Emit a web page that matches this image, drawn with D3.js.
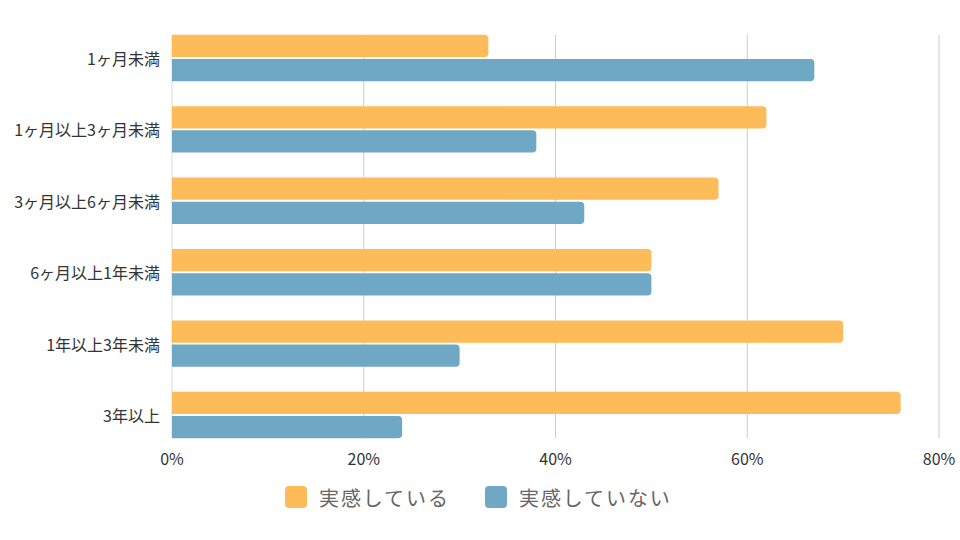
<!DOCTYPE html>
<html>
<head>
<meta charset="utf-8">
<script src="https://cdn.jsdelivr.net/npm/d3@7"></script>
<style>
  body { margin: 0; background: #fff; }
  text { font-family: "Noto Sans CJK JP", "Noto Sans", sans-serif; }
</style>
</head>
<body>
<div id="chart"></div>
<script>
var categories = ["1ヶ月未満","1ヶ月以上3ヶ月未満","3ヶ月以上6ヶ月未満","6ヶ月以上1年未満","1年以上3年未満","3年以上"]
var seriesNames = ["実感している","実感していない"]
var feelYes = [33, 62, 57, 50, 70, 76]
var feelNo = [67, 38, 43, 50, 30, 24]
var ticks = [0, 20, 40, 60, 80]
var colors = ["#FEBB5A","#6EA8C4"]

var W = 960, H = 540
var svg = d3.select("#chart").append("svg").attr("width", W).attr("height", H)

var x = d3.scaleLinear().domain([0, 80]).range([172, 939])
var y = d3.scaleBand().domain(categories).range([22.3, 450.7]).paddingInner(0.35).paddingOuter(0.175)
var inner = d3.scaleBand().domain([0, 1]).range([0, y.bandwidth()]).paddingInner(0.08)

var plotTop = y(categories[0]), plotBottom = y(categories[categories.length-1]) + y.bandwidth()

// gridlines
svg.selectAll("line.grid").data(ticks.slice(1)).enter().append("line")
  .attr("x1", function(d){return x(d)}).attr("x2", function(d){return x(d)})
  .attr("y1", plotTop).attr("y2", plotBottom)
  .attr("stroke", "#cccccc").attr("stroke-width", 1)
svg.append("line").attr("x1", x(0)).attr("x2", x(0)).attr("y1", plotTop).attr("y2", plotBottom)
  .attr("stroke", "#e6e6e6").attr("stroke-width", 1.5)

function barPath(x0, x1, y0, h, r){
  var w = x1 - x0
  r = Math.min(r, w, h/2)
  return "M"+x0+","+y0+"H"+(x1-r)+"Q"+x1+","+y0+" "+x1+","+(y0+r)+"V"+(y0+h-r)+
    "Q"+x1+","+(y0+h)+" "+(x1-r)+","+(y0+h)+"H"+x0+"Z"
}

var data = categories.map(function(c, i){ return {cat: c, vals: [feelYes[i], feelNo[i]]} })

var groups = svg.selectAll("g.grp").data(data).enter().append("g")
  .attr("transform", function(d){return "translate(0,"+y(d.cat)+")"})
groups.selectAll("path").data(function(d){return d.vals}).enter().append("path")
  .attr("d", function(d, i){return barPath(x(0), x(d), inner(i), inner.bandwidth(), 4)})
  .attr("fill", function(d, i){return colors[i]})

// category labels
svg.selectAll("text.cat").data(categories).enter().append("text")
  .attr("x", 160).attr("y", function(d){return y(d) + y.bandwidth()/2})
  .attr("text-anchor", "end").attr("dominant-baseline", "central")
  .attr("font-size", 16).attr("fill", "#333").text(function(d){return d})

// x tick labels
svg.selectAll("text.tick").data(ticks).enter().append("text")
  .attr("x", function(d){return x(d)}).attr("y", 458)
  .attr("text-anchor", "middle").attr("dominant-baseline", "central")
  .attr("font-size", 16).attr("fill", "#333").text(function(d){return d + "%"})

// legend
var legX = [285, 485]
var leg = svg.selectAll("g.leg").data(seriesNames).enter().append("g")
  .attr("transform", function(d, i){return "translate("+legX[i]+",486)"})
leg.append("rect").attr("width", 22).attr("height", 22).attr("rx", 4)
  .attr("fill", function(d, i){return colors[i]})
leg.append("text").attr("x", 34).attr("y", 11).attr("dominant-baseline", "central")
  .attr("font-size", 20).attr("fill", "#666").attr("letter-spacing", 1.9).text(function(d){return d})
</script>
</body>
</html>
